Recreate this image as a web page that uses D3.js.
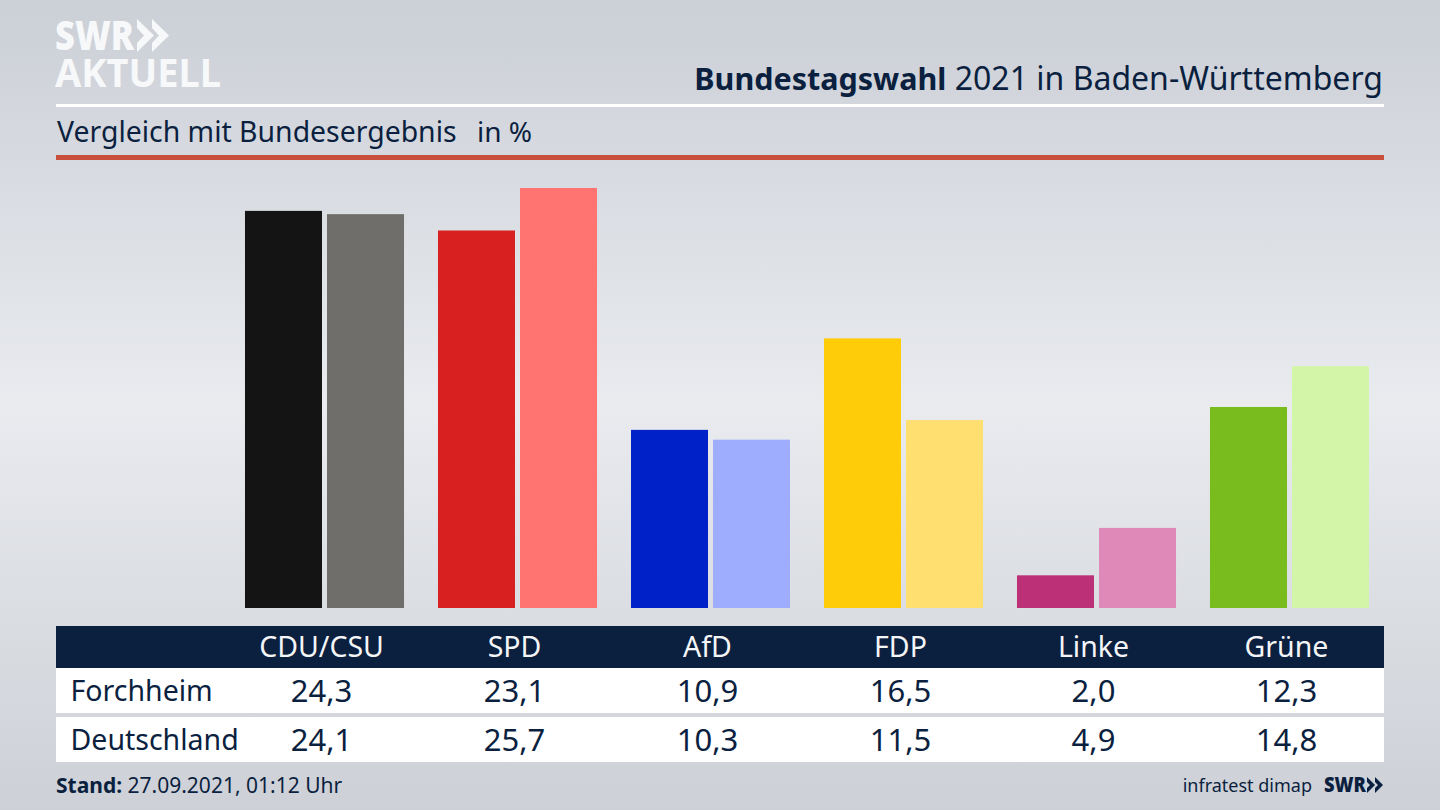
<!DOCTYPE html>
<html lang="de">
<head>
<meta charset="utf-8">
<title>Bundestagswahl 2021 in Baden-Württemberg</title>
<script src="https://cdn.jsdelivr.net/npm/d3@7"></script>
<style>
    html, body { margin: 0; padding: 0; background: #d5d8dd; overflow: hidden; }
    svg { display: block; }
    text { font-family: "Noto Sans", sans-serif; fill: #0b1f3f; }
</style>
</head>
<body>
<div id="chart"></div>
<script>
// data
const parties = ["CDU/CSU", "SPD", "AfD", "FDP", "Linke", "Grüne"];
const seriesNames = ["Forchheim", "Deutschland"];
const forchheim = [24.3, 23.1, 10.9, 16.5, 2.0, 12.3];
const deutschland = [24.1, 25.7, 10.3, 11.5, 4.9, 14.8];
const colorsForchheim = ["#141414", "#d7201f", "#0021c8", "#ffcc0a", "#bb3076", "#78bc1d"];
const colorsDeutschland = ["#6f6e6b", "#ff7370", "#9fadff", "#ffdf70", "#df89b8", "#d3f5a8"];

const width = 1440, height = 810;
const navy = "#0b1f3f";

const svg = d3.select("#chart").append("svg")
    .attr("width", width)
    .attr("height", height);

// background gradient
const defs = svg.append("defs");
const grad = defs.append("linearGradient")
    .attr("id", "bg")
    .attr("x1", 0).attr("y1", 0).attr("x2", 0).attr("y2", 1);
grad.append("stop").attr("offset", "0%").attr("stop-color", "#cbcfd6");
grad.append("stop").attr("offset", "50%").attr("stop-color", "#e9ebef");
grad.append("stop").attr("offset", "100%").attr("stop-color", "#cdd0d6");
svg.append("rect").attr("width", width).attr("height", height).attr("fill", "url(#bg)");

// scales
const x = d3.scaleBand()
    .domain(parties)
    .range([228, 1386])
    .paddingInner(0.176)
    .paddingOuter(0.088);

const xInner = d3.scaleBand()
    .domain(seriesNames)
    .range([0, x.bandwidth()])
    .paddingInner(0.061);

const y = d3.scaleLinear()
    .domain([0, 25.7])
    .range([608, 188]);

// bars
const rows = parties.map((p, i) => ({
    party: p,
    values: [
        {series: seriesNames[0], value: forchheim[i], color: colorsForchheim[i]},
        {series: seriesNames[1], value: deutschland[i], color: colorsDeutschland[i]}
    ]
}));

svg.append("g").selectAll("g")
    .data(rows)
    .join("g")
    .attr("transform", d => `translate(${x(d.party)},0)`)
    .selectAll("rect")
    .data(d => d.values)
    .join("rect")
    .attr("x", d => xInner(d.series))
    .attr("y", d => y(d.value))
    .attr("width", xInner.bandwidth())
    .attr("height", d => y(0) - y(d.value))
    .attr("fill", d => d.color);

// logo
const logo = svg.append("g");
logo.append("text").text("SWR")
    .attr("x", 55).attr("y", 50)
    .attr("font-size", 41).attr("font-weight", 900)
    .attr("textLength", 79).attr("lengthAdjust", "spacingAndGlyphs")
    .style("fill", "#f7f8f9");
logo.append("text").text("AKTUELL")
    .attr("x", 55).attr("y", 87)
    .attr("font-size", 40).attr("font-weight", 700)
    .attr("textLength", 166).attr("lengthAdjust", "spacingAndGlyphs")
    .style("fill", "#f7f8f9");
logo.selectAll("path.chev")
    .data([137, 152])
    .join("path")
    .attr("class", "chev")
    .attr("d", d => `M${d},19 l17,16.5 l-17,16.5 v-9 l7,-7.5 l-7,-7.5 z`)
    .attr("fill", "#f7f8f9");

// title
const title = svg.append("text")
    .attr("x", 1383).attr("y", 90)
    .attr("text-anchor", "end")
    .attr("font-size", 32);
title.append("tspan").attr("font-weight", 700).attr("font-size", 30.5).text("Bundestagswahl");
title.append("tspan").text(" 2021 in Baden-Württemberg");

svg.append("rect").attr("x", 56).attr("y", 104).attr("width", 1328).attr("height", 3).attr("fill", "#ffffff");

svg.append("text").text("Vergleich mit Bundesergebnis")
    .attr("x", 57).attr("y", 142).attr("font-size", 28.4);
svg.append("text").text("in %")
    .attr("x", 477).attr("y", 142).attr("font-size", 28);

svg.append("rect").attr("x", 56).attr("y", 155).attr("width", 1328).attr("height", 5).attr("fill", "#c8503c");

// table
const labelX = p => x(p) + x.bandwidth() / 2 - 3;

svg.append("rect").attr("x", 56).attr("y", 626).attr("width", 1328).attr("height", 42).attr("fill", navy);
svg.append("rect").attr("x", 56).attr("y", 668).attr("width", 1328).attr("height", 45).attr("fill", "#ffffff");
svg.append("rect").attr("x", 56).attr("y", 717).attr("width", 1328).attr("height", 45).attr("fill", "#ffffff");

svg.append("g").selectAll("text")
    .data(parties)
    .join("text")
    .attr("x", labelX)
    .attr("y", 657)
    .attr("text-anchor", "middle")
    .attr("font-size", 28.5)
    .style("fill", "#f4f5f7")
    .text(d => d);

const fmt = v => v.toFixed(1).replace(".", ",");

[forchheim, deutschland].forEach((vals, r) => {
    const rowY = [701, 750][r];
    svg.append("text").text(seriesNames[r])
        .attr("x", 70.5).attr("y", rowY).attr("font-size", 28.5);
    svg.append("g").selectAll("text")
        .data(vals)
        .join("text")
        .attr("x", (d, i) => labelX(parties[i]))
        .attr("y", rowY + 1)
        .attr("text-anchor", "middle")
        .attr("font-size", 31)
        .text(d => fmt(d));
});

// footer
const stand = svg.append("text").attr("x", 56).attr("y", 793).attr("font-size", 21);
stand.append("tspan").attr("font-weight", 700).text("Stand:");
stand.append("tspan").text(" 27.09.2021, 01:12 Uhr");

svg.append("text").text("infratest dimap")
    .attr("x", 1312).attr("y", 792)
    .attr("text-anchor", "end")
    .attr("font-size", 18);
svg.append("text").text("SWR")
    .attr("x", 1324).attr("y", 792)
    .attr("font-size", 21).attr("font-weight", 900)
    .attr("textLength", 42).attr("lengthAdjust", "spacingAndGlyphs");
svg.selectAll("path.chev2")
    .data([1367, 1375])
    .join("path")
    .attr("class", "chev2")
    .attr("d", d => `M${d},777 l8,8 l-8,8 v-5 l3,-3 l-3,-3 z`)
    .attr("fill", navy);
</script>
</body>
</html>
